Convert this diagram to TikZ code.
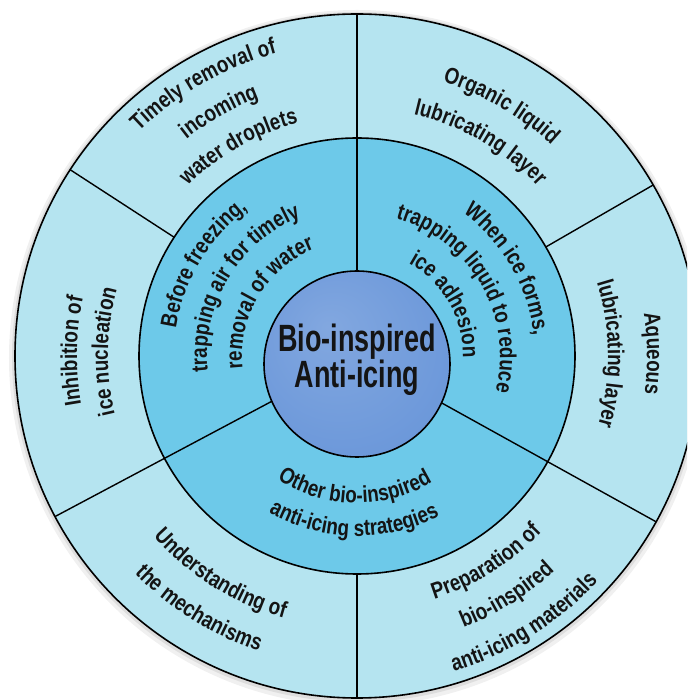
\documentclass[tikz,border=0pt]{standalone}
\usepackage{fontspec}
\newfontfamily\labfont[FakeStretch=0.82]{Liberation Sans}
\newfontfamily\corefont[FakeStretch=0.71]{Liberation Sans}
\usetikzlibrary{decorations.text}
\definecolor{outerc}{HTML}{B5E4F0}
\definecolor{outerrim}{HTML}{98D2E4}
\definecolor{midc}{HTML}{6DC9E9}
\definecolor{midrim}{HTML}{57B7DD}
\definecolor{corec}{HTML}{6C98DA}
\definecolor{corerim}{HTML}{5A80C6}
\definecolor{inkc}{HTML}{141414}
\pgfdeclareradialshading{outershade}{\pgfpoint{0bp}{0bp}}{color(0bp)=(outerc); color(46bp)=(outerc); color(49.6bp)=(outerrim); color(50bp)=(outerrim)}
\pgfdeclareradialshading{midshade}{\pgfpoint{0bp}{0bp}}{color(0bp)=(midc); color(45bp)=(midc); color(49.5bp)=(midrim); color(50bp)=(midrim)}
\pgfdeclareradialshading{coreshade}{\pgfpoint{-8bp}{10bp}}{color(0bp)=(corec!85!white); color(30bp)=(corec); color(50bp)=(corerim)}
\def\lf{\color{inkc}\labfont\bfseries\fontsize{23}{27}\selectfont}
% clockwise text (tops outward): angle, radius, text
\newcommand\cwlabel[3]{\path[decorate, decoration={text along path, text align=center, text={|\lf|#3}}] ({#1+90}:#2) arc[start angle={#1+90}, end angle={#1-90}, radius=#2];}
% counter-clockwise text (tops inward)
\newcommand\ccwlabel[3]{\path[decorate, decoration={text along path, text align=center, text={|\lf|#3}}] ({#1-90}:#2) arc[start angle={#1-90}, end angle={#1+90}, radius=#2];}
\begin{document}
\begin{tikzpicture}[x=1pt, y=1pt,
  divider/.style={line width=1.4pt, draw=black},
  ringedge/.style={line width=1.6pt, draw=black}]
\useasboundingbox (-357,-344) rectangle (330,356);
\clip (-357,-344) rectangle (330,356);
\fill[white] (-357,-344) rectangle (330,356);
% soft shadow
\fill[black, opacity=0.06] (0,-2) circle[radius=348];
\fill[black, opacity=0.08] (0,-1) circle[radius=345];
% rings
\path[shading=outershade] (0,0) circle[radius=342];
\draw[ringedge] (0,0) circle[radius=342];
\path[shading=midshade] (0,0) circle[radius=218];
\draw[ringedge] (0,0) circle[radius=218];
% dividers
\draw[divider] (0,0) -- (90:342);
\draw[divider] (0,0) -- (208:342);
\draw[divider] (0,0) -- (331:342);
\draw[divider] (147:218) -- (147:342);
\draw[divider] (30:218) -- (30:342);
\draw[divider] (270:218) -- (270:342);
% core
\path[shading=coreshade] (0,-8) circle[radius=93];
\draw[ringedge] (0,-8) circle[radius=93];
\node[align=center, text=inkc, font=\corefont\bfseries\fontsize{38}{35}\selectfont] (core) at (0,-4) {Bio-inspired\\Anti-icing};
% inner ring texts
\cwlabel{149}{183}{Before freezing,}
\cwlabel{149}{150}{trapping air for timely}
\cwlabel{149}{115}{removal of water}
\cwlabel{30}{178}{When ice forms,}
\cwlabel{30}{143}{trapping liquid to reduce}
\cwlabel{30}{106}{ice adhesion}
\ccwlabel{269}{147}{Other bio-inspired}
\ccwlabel{269}{180}{anti-icing strategies}
% outer ring texts
\cwlabel{119.5}{313}{Timely removal of}
\cwlabel{119.5}{276}{incoming}
\cwlabel{119.5}{240}{water droplets}
\cwlabel{60}{287}{Organic liquid}
\cwlabel{60}{248}{lubricating layer}
\cwlabel{0.5}{290}{Aqueous}
\cwlabel{0.5}{251}{lubricating layer}
\cwlabel{179}{280}{Inhibition of}
\cwlabel{179}{249}{ice nucleation}
\ccwlabel{238}{272}{Understanding of}
\ccwlabel{238}{311}{the mechanisms}
\ccwlabel{302}{255}{Preparation of}
\ccwlabel{302}{292}{bio-inspired}
\ccwlabel{302}{330}{anti-icing materials}
\end{tikzpicture}
\end{document}
